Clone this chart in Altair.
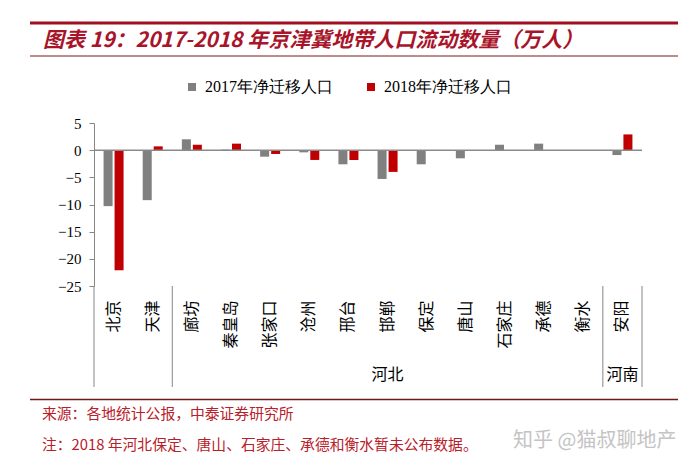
import altair as alt
import pandas as pd

# ---- data ----
categories = ["北京", "天津", "廊坊", "秦皇岛", "张家口", "沧州", "邢台", "邯郸",
              "保定", "唐山", "石家庄", "承德", "衡水", "安阳"]
v2017 = [-10.3, -9.2, 2.0, 0.1, -1.2, -0.4, -2.6, -5.3, -2.6, -1.5, 1.0, 1.2, 0.0, -0.9]
v2018 = [-22.1, 0.7, 1.0, 1.2, -0.7, -1.8, -1.8, -4.0, None, None, None, None, None, 2.9]
series = ["2017年净迁移人口", "2018年净迁移人口"]
colors = ["#808080", "#C00000"]
y_ticks = [5, 0, -5, -10, -15, -20, -25]
groups = ["河北", "河南"]
group_anchor = ["邯郸", "安阳"]          # centre category of each province block
sep_left = ["北京", "廊坊", "安阳"]      # separators on the left edge of these
sep_right = ["安阳"]                     # separator on the right edge

title_text = "图表 19：2017-2018 年京津冀地带人口流动数量（万人）"
source_text = "来源：各地统计公报，中泰证券研究所"
note_text = "注：2018 年河北保定、唐山、石家庄、承德和衡水暂未公布数据。"
mark_text = "知乎 @猫叔聊地产"

rows = []
for c, a, b in zip(categories, v2017, v2018):
    rows.append({"cat": c, "year": series[0], "v": a})
    rows.append({"cat": c, "year": series[1], "v": b})
df = pd.DataFrame(rows)

W, H = 548, 163
CJK = "Noto Sans CJK SC"

x_scale = alt.Scale(domain=categories, paddingInner=0, paddingOuter=0)
x_axis = alt.Axis(title=None, labelAngle=-90, labelFont=CJK, labelFontSize=16,
                  labelColor="#000000", ticks=False, tickSize=0, domain=False,
                  labelPadding=14, labelOverlap=False, grid=False)
y_scale = alt.Scale(domain=[-25, 5], nice=False, zero=False)
y_axis = alt.Axis(title=None, values=y_ticks, labelFont="Liberation Serif",
                  labelFontSize=15, labelColor="#000000", tickSize=5,
                  tickColor="#868686", domainColor="#868686", labelPadding=8,
                  grid=False)

bars = alt.Chart(df).mark_bar().encode(
    x=alt.X("cat:N", scale=x_scale, axis=x_axis, sort=categories),
    xOffset=alt.XOffset("year:N", sort=series,
                        scale=alt.Scale(paddingInner=0.18, paddingOuter=0.87)),
    y=alt.Y("v:Q", scale=y_scale, axis=y_axis),
    color=alt.Color("year:N", sort=series,
                    scale=alt.Scale(domain=series, range=colors),
                    legend=alt.Legend(title=None, orient="none", direction="horizontal",
                                      legendX=90, legendY=-44, padding=0,
                                      symbolType="square", symbolSize=64,
                                      symbolStrokeWidth=0, labelFont="Liberation Serif",
                                      labelFontSize=16, labelColor="#000000",
                                      labelOffset=5, columnPadding=30)),
)

zero = alt.Chart(pd.DataFrame({"z": [0]})).mark_rule(
    color="#8a8a8a", strokeWidth=1.5).encode(
    y=alt.Y("z:Q", scale=y_scale, axis=y_axis),
    x=alt.value(0), x2=alt.value(W))

sep_l = alt.Chart(pd.DataFrame({"cat": sep_left})).mark_rule(
    color="#868686", strokeWidth=1).encode(
    x=alt.X("cat:N", scale=x_scale, axis=x_axis, sort=categories, bandPosition=0),
    y=alt.value(H), y2=alt.value(264))
sep_r = alt.Chart(pd.DataFrame({"cat": sep_right})).mark_rule(
    color="#868686", strokeWidth=1).encode(
    x=alt.X("cat:N", scale=x_scale, axis=x_axis, sort=categories, bandPosition=1),
    y=alt.value(H), y2=alt.value(264))

grp = alt.Chart(pd.DataFrame({"cat": group_anchor, "g": groups})).mark_text(
    font=CJK, fontSize=16, color="#000000", baseline="middle", align="center").encode(
    x=alt.X("cat:N", scale=x_scale, axis=x_axis, sort=categories),
    y=alt.value(251.5), text="g:N")

def txt(s, x, y, **kw):
    return alt.Chart(pd.DataFrame({"t": [s]})).mark_text(
        align="left", baseline="middle", **kw).encode(
        text="t:N", x=alt.value(x), y=alt.value(y))

def hline(x1, x2, y, color, w):
    return alt.Chart(pd.DataFrame({"k": [0]})).mark_rule(
        color=color, strokeWidth=w).encode(
        x=alt.value(x1), x2=alt.value(x2), y=alt.value(y))

title = txt(title_text, -51, -82.5, font=CJK, fontSize=21, fontWeight="bold",
            fontStyle="italic", color="#A8142A")
src = txt(source_text, -52, 292, font=CJK, fontSize=14.8, color="#B8202A")
note = txt(note_text, -52, 323, font=CJK, fontSize=14.8, color="#B8202A")
wm = txt(mark_text, 419, 318, font=CJK, fontSize=20, color="#C4C4C4")

top_line = hline(-64, 584, -100, "#A01020", 3)
sub_line = hline(-64, 584, -67, "#7A1A1A", 1)
foot_line = hline(-64, 584, 276.5, "#6E1A1A", 1.5)

chart = alt.layer(
    top_line, sub_line, foot_line, title,
    bars, zero, sep_l, sep_r, grp, src, note, wm
).properties(
    width=W, height=H,
    autosize=alt.AutoSizeParams(type="none"),
    padding={"left": 86, "top": 115, "right": 49, "bottom": 176},
    background="#ffffff",
).configure_view(stroke=None)

chart.save("out.html", embed_options={"renderer": "svg", "actions": False})
